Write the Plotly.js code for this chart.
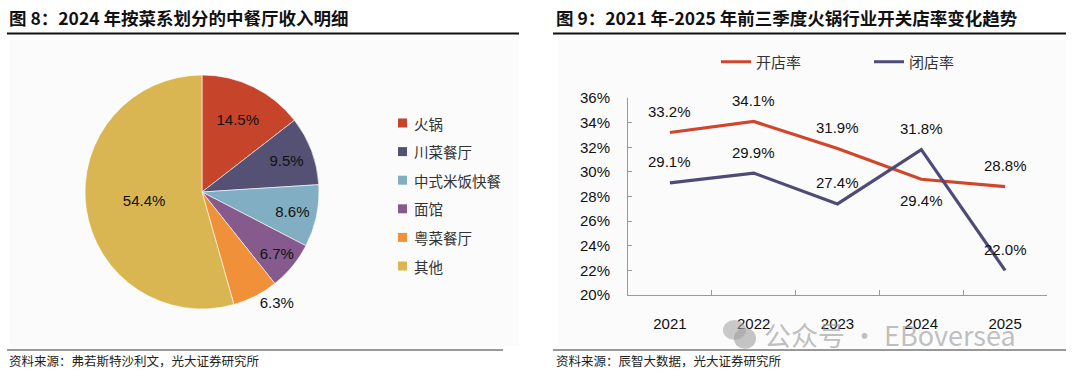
<!DOCTYPE html>
<html>
<head>
<meta charset="utf-8">
<script src="https://cdn.plot.ly/plotly-3.0.1.min.js"></script>
<style>html,body{margin:0;padding:0;background:#fff;}#chart{width:1080px;height:376px;}</style>
</head>
<body>
<div id="chart"></div>
<script>
// ---- data ----
const pieLabels = ['火锅', '川菜餐厅', '中式米饭快餐', '面馆', '粤菜餐厅', '其他'];
const pieValues = [14.5, 9.5, 8.6, 6.7, 6.3, 54.4];
const pieColors = ['#C6442A', '#545174', '#82AEC3', '#865A8C', '#F0913A', '#D9B651'];

const years = ['2021', '2022', '2023', '2024', '2025'];
const openRate = [33.2, 34.1, 31.9, 29.4, 28.8];
const closeRate = [29.1, 29.9, 27.4, 31.8, 22.0];
const openLabelSide = [1, 1, 1, -1, 1];   // 1 above, -1 below
const closeLabelSide = [1, 1, 1, 1, 1];

const title1 = '图 8：2024 年按菜系划分的中餐厅收入明细';
const title2 = '图 9：2021 年-2025 年前三季度火锅行业开关店率变化趋势';
const source1 = '资料来源：弗若斯特沙利文，光大证券研究所';
const source2 = '资料来源：辰智大数据，光大证券研究所';

// ---- helpers ----
const W = 1080, H = 376;
const px = x => x / W;
const py = y => 1 - y / H;
const FONT = 'Liberation Sans, Arial, Noto Sans CJK SC, sans-serif';
const CJK = 'Noto Sans CJK SC, Liberation Sans, sans-serif';
const openColor = '#D0462B';
const closeColor = '#4E4B78';

const pieText = pieValues.map(v => v.toFixed(1) + '%');
const pieTextPos = pieValues.map(v => (v < 6.5 ? 'outside' : 'inside'));

const cx = 202, cy = 192, r = 117;
const traces = [
  {
    type: 'pie',
    labels: pieLabels,
    values: pieValues,
    text: pieText,
    textinfo: 'text',
    textposition: pieTextPos,
    insidetextorientation: 'horizontal',
    sort: false,
    direction: 'clockwise',
    rotation: 0,
    marker: { colors: pieColors, line: { color: '#ffffff', width: 0.6 } },
    textfont: { family: FONT, size: 15, color: '#111' },
    outsidetextfont: { family: FONT, size: 15, color: '#111' },
    insidetextfont: { family: FONT, size: 15, color: '#111' },
    showlegend: false,
    hoverinfo: 'label+percent',
    domain: { x: [px(cx - r), px(cx + r)], y: [py(cy + r), py(cy - r)] }
  },
  {
    type: 'scatter', mode: 'lines', name: '开店率',
    x: years, y: openRate, xaxis: 'x', yaxis: 'y',
    line: { color: openColor, width: 3.2 }
  },
  {
    type: 'scatter', mode: 'lines', name: '闭店率',
    x: years, y: closeRate, xaxis: 'x', yaxis: 'y',
    line: { color: closeColor, width: 3.2 }
  }
];

const annotations = [];
const shapes = [];

// faint panels
shapes.push({ type: 'rect', xref: 'paper', yref: 'paper', x0: px(10), x1: px(519), y0: py(346), y1: py(40), fillcolor: '#FBFBFB', line: { width: 0 }, layer: 'below' });
shapes.push({ type: 'rect', xref: 'paper', yref: 'paper', x0: px(558), x1: px(1066), y0: py(346), y1: py(40), fillcolor: '#FBFBFB', line: { width: 0 }, layer: 'below' });

// titles and rules
annotations.push({ xref: 'paper', yref: 'paper', x: px(7), y: py(17), xanchor: 'left', yanchor: 'middle', showarrow: false, text: '<b>' + title1 + '</b>', font: { family: CJK, size: 17.5, color: '#111' } });
annotations.push({ xref: 'paper', yref: 'paper', x: px(554), y: py(17), xanchor: 'left', yanchor: 'middle', showarrow: false, text: '<b>' + title2 + '</b>', font: { family: CJK, size: 17.5, color: '#111' } });
shapes.push({ type: 'line', xref: 'paper', yref: 'paper', x0: px(7), x1: px(519), y0: py(33.5), y1: py(33.5), line: { color: '#111', width: 2 } });
shapes.push({ type: 'line', xref: 'paper', yref: 'paper', x0: px(553), x1: px(1066), y0: py(33.5), y1: py(33.5), line: { color: '#111', width: 2 } });

// source rules and text
shapes.push({ type: 'line', xref: 'paper', yref: 'paper', x0: px(7), x1: px(503), y0: py(350), y1: py(350), line: { color: '#333', width: 1 } });
shapes.push({ type: 'line', xref: 'paper', yref: 'paper', x0: px(553), x1: px(1066), y0: py(350), y1: py(350), line: { color: '#333', width: 1 } });
annotations.push({ xref: 'paper', yref: 'paper', x: px(7), y: py(360), xanchor: 'left', yanchor: 'middle', showarrow: false, text: source1, font: { family: CJK, size: 12.5, color: '#222' } });
annotations.push({ xref: 'paper', yref: 'paper', x: px(554), y: py(360), xanchor: 'left', yanchor: 'middle', showarrow: false, text: source2, font: { family: CJK, size: 12.5, color: '#222' } });

// manual pie legend built from the label/colour arrays
pieLabels.forEach((lab, i) => {
  const yc = 123 + i * 28.6;
  shapes.push({ type: 'rect', xref: 'paper', yref: 'paper', x0: px(398), x1: px(407), y0: py(yc + 4.5), y1: py(yc - 4.5), fillcolor: pieColors[i], line: { width: 0 } });
  annotations.push({ xref: 'paper', yref: 'paper', x: px(412), y: py(yc), xanchor: 'left', yanchor: 'middle', showarrow: false, text: lab, font: { family: CJK, size: 14.5, color: '#333' } });
});

// line data labels (x given as category index so numeric-looking names are not misread)
years.forEach((yr, i) => {
  annotations.push({ xref: 'x', yref: 'y', x: i, y: openRate[i], yshift: 21 * openLabelSide[i], showarrow: false, text: openRate[i].toFixed(1) + '%', font: { family: FONT, size: 15, color: '#111' } });
  annotations.push({ xref: 'x', yref: 'y', x: i, y: closeRate[i], yshift: 21 * closeLabelSide[i], showarrow: false, text: closeRate[i].toFixed(1) + '%', font: { family: FONT, size: 15, color: '#111' } });
});

// watermark
annotations.push({ xref: 'paper', yref: 'paper', x: px(762), y: py(334), xanchor: 'left', yanchor: 'middle', showarrow: false, text: '公众号 · EBoversea', font: { family: CJK, size: 27, color: 'rgba(150,150,150,0.6)' } });
shapes.push({ type: 'circle', xref: 'paper', yref: 'paper', x0: px(723), x1: px(746), y0: py(340), y1: py(320), fillcolor: 'rgba(160,160,160,0.55)', line: { width: 0 } });
shapes.push({ type: 'circle', xref: 'paper', yref: 'paper', x0: px(734), x1: px(756), y0: py(349), y1: py(328), fillcolor: 'rgba(160,160,160,0.6)', line: { width: 0 } });

const layout = {
  width: W, height: H,
  margin: { l: 0, r: 0, t: 0, b: 0 },
  paper_bgcolor: '#ffffff',
  plot_bgcolor: 'rgba(0,0,0,0)',
  font: { family: FONT, color: '#222' },
  showlegend: true,
  legend: {
    orientation: 'h', x: px(716), y: py(62), xanchor: 'left', yanchor: 'middle',
    font: { family: CJK, size: 15, color: '#333' },
    entrywidth: 108, entrywidthmode: 'pixels',
    bgcolor: 'rgba(0,0,0,0)'
  },
  xaxis: {
    domain: [px(628), px(1047)],
    anchor: 'y',
    type: 'category',
    categoryorder: 'array', categoryarray: years,
    range: [-0.5, years.length - 0.5],
    showline: true, linecolor: '#9a9a9a', linewidth: 1,
    ticks: 'inside', tickson: 'boundaries', ticklen: 5, tickcolor: '#9a9a9a',
    showgrid: false, zeroline: false,
    tickangle: 0,
    ticklabelstandoff: 15,
    tickfont: { family: FONT, size: 15, color: '#111' },
    fixedrange: true
  },
  yaxis: {
    domain: [py(295), py(98)],
    anchor: 'x',
    range: [20, 36],
    dtick: 2, tick0: 20,
    ticksuffix: '%',
    showline: true, linecolor: '#9a9a9a', linewidth: 1,
    ticks: 'inside', ticklen: 4, tickcolor: '#9a9a9a',
    showgrid: false, zeroline: false,
    ticklabelstandoff: 14,
    tickfont: { family: FONT, size: 15, color: '#111' },
    fixedrange: true
  },
  shapes: shapes,
  annotations: annotations
};

Plotly.newPlot('chart', traces, layout, { staticPlot: true, displayModeBar: false });
</script>
</body>
</html>
